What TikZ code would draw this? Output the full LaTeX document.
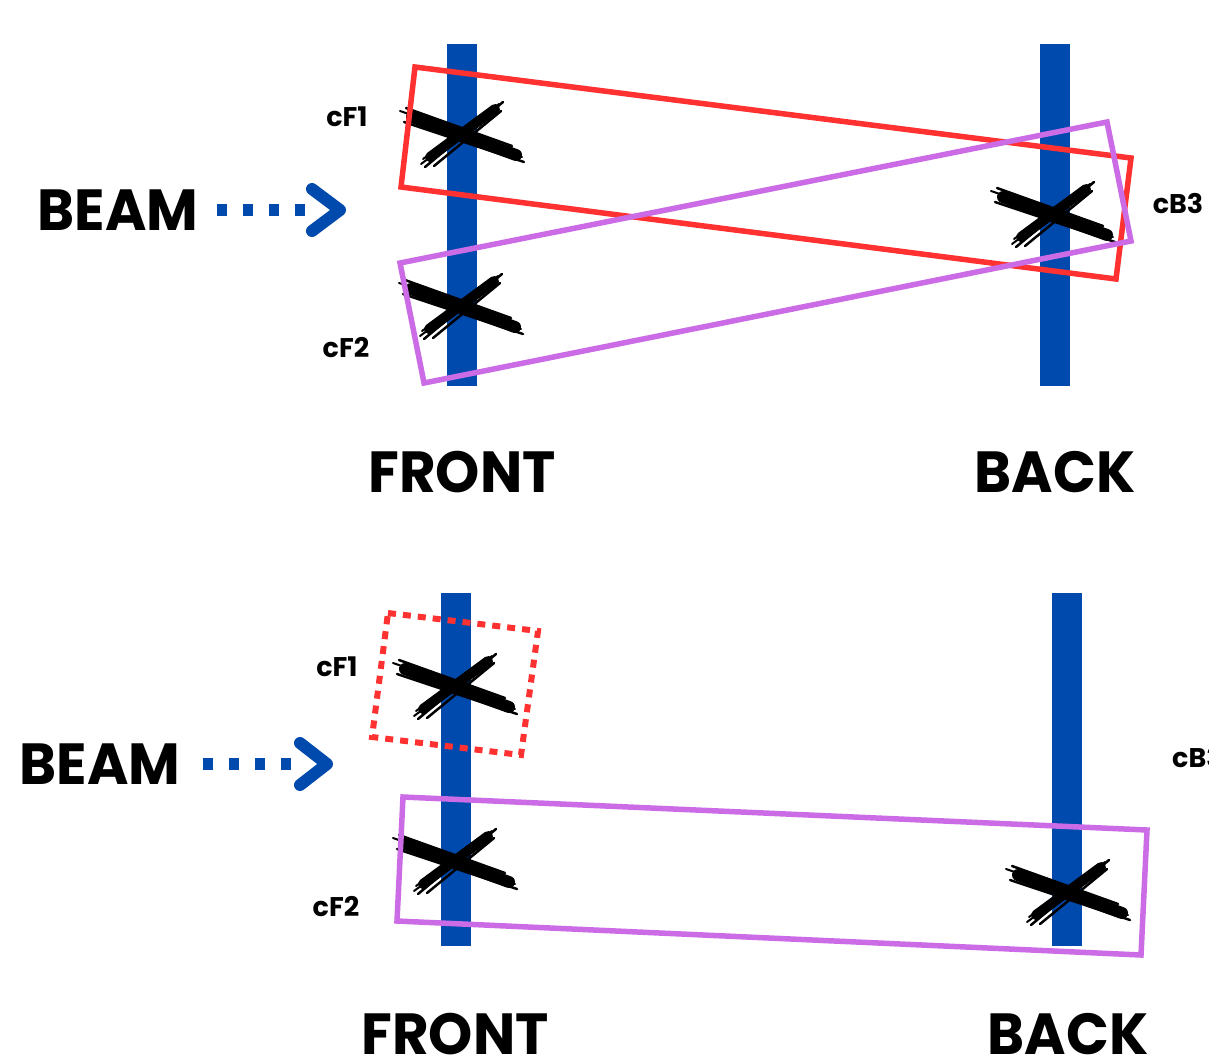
\documentclass[tikz,border=0pt]{standalone}
\usepackage{fontspec}
\setmainfont{Poppins}
\usetikzlibrary{calc}
\definecolor{barblue}{HTML}{004AAD}
\definecolor{boxred}{HTML}{FF3131}
\definecolor{boxpurple}{HTML}{CB6CE6}
\tikzset{
  bar/.style={fill=barblue, draw=none, minimum width=30pt, inner sep=0pt},
  bigtxt/.style={font=\fontsize{58}{58}\selectfont\bfseries, inner sep=0pt, anchor=base, xscale=0.97},
  smalltxt/.style={font=\fontsize{27}{27}\selectfont\bfseries, inner sep=0pt, anchor=base},
  boxline/.style={line width=5.5pt, line join=miter},
  beamdots/.style={barblue, line width=12pt, dash pattern=on 10pt off 16pt},
  chevron/.style={barblue, line width=12pt, line cap=round, line join=round},
  xmark/.pic={
    \draw[line width=12pt, line cap=round] (-50,-18) -- (54,20);
    \draw[line width=10pt, line cap=round] (-32,22) -- (33,-26);
    \draw[line width=2pt, line cap=round] (-62,-24) -- (58,17);
    \draw[line width=2.5pt, line cap=round] (-58,-13) -- (62,27);
    \draw[line width=2.5pt, line cap=round] (-56,-27) -- (50,11);
    \draw[line width=2pt, line cap=round] (-55,-19) -- (60,22);
    \draw[line width=2pt, line cap=round] (-41,29) -- (32,-25);
    \draw[line width=2.5pt, line cap=round] (-37,32) -- (41,-33);
    \draw[line width=2.5pt, line cap=round] (-28,31) -- (39,-24);
    \draw[line width=2pt, line cap=round] (-39,24) -- (37,-31);
  }
}
\begin{document}
\begin{tikzpicture}[x=1pt,y=-1pt]
\useasboundingbox (0,0) rectangle (1209,1061);
\clip (0,0) rectangle (1209,1061);
\fill[white] (0,0) rectangle (1209,1061);

% ---------- top panel ----------
\node[bar, minimum height=342pt] (frontT) at (462,215) {};
\node[bar, minimum height=342pt] (backT) at (1054.5,215) {};

\node[bigtxt] (beamT) at (118,230) {BEAM};
\coordinate (dotsTa) at (217,210);
\coordinate (dotsTb) at (306,210);
\draw[beamdots] (dotsTa) -- (dotsTb);
\coordinate (chevTa) at (312,189);
\coordinate (chevTb) at (340,210);
\coordinate (chevTc) at (312,231);
\draw[chevron] (chevTa) -- (chevTb) -- (chevTc);

\pic at (462,135) {xmark};
\pic at (461,307) {xmark};
\pic at (1053,215) {xmark};

\draw[boxline, boxred] (415,67) -- (1131,158) -- (1116,279) -- (401,187) -- cycle;
\draw[boxline, boxpurple] (400,263) -- (1107,122) -- (1131,241) -- (424,383) -- cycle;

\node[smalltxt] (cF1T) at (347,126) {cF1};
\node[smalltxt] (cF2T) at (346,357) {cF2};
\node[smalltxt] (cB3T) at (1178,213) {cB3};

\node[bigtxt] (frontLT) at (462,492) {FRONT};
\node[bigtxt] (backLT) at (1055,492) {BACK};

% ---------- bottom panel ----------
\node[bar, minimum height=353pt] (frontB) at (455.5,769.5) {};
\node[bar, minimum height=353pt] (backB) at (1067,769.5) {};

\node[bigtxt] (beamB) at (100,784) {BEAM};
\coordinate (dotsBa) at (203,764);
\coordinate (dotsBb) at (292,764);
\draw[beamdots] (dotsBa) -- (dotsBb);
\coordinate (chevBa) at (300,743);
\coordinate (chevBb) at (327,764);
\coordinate (chevBc) at (300,785);
\draw[chevron] (chevBa) -- (chevBb) -- (chevBc);

\pic at (455,687) {xmark};
\pic at (455,862) {xmark};
\pic at (1068,893) {xmark};

\draw[boxline, boxred, line width=6pt, dash pattern=on 8pt off 7pt] (388,613) -- (538,631) -- (521,755) -- (372,737) -- cycle;
\draw[boxline, boxpurple] (403,797) -- (1147,830) -- (1141,955) -- (397,921) -- cycle;

\node[smalltxt] (cF1B) at (337,676) {cF1};
\node[smalltxt] (cF2B) at (336,916) {cF2};
\node[smalltxt, anchor=base west] (cB3B) at (1172,767) {cB3};

\node[bigtxt] (frontLB) at (455,1054) {FRONT};
\node[bigtxt] (backLB) at (1068,1054) {BACK};
\end{tikzpicture}
\end{document}
